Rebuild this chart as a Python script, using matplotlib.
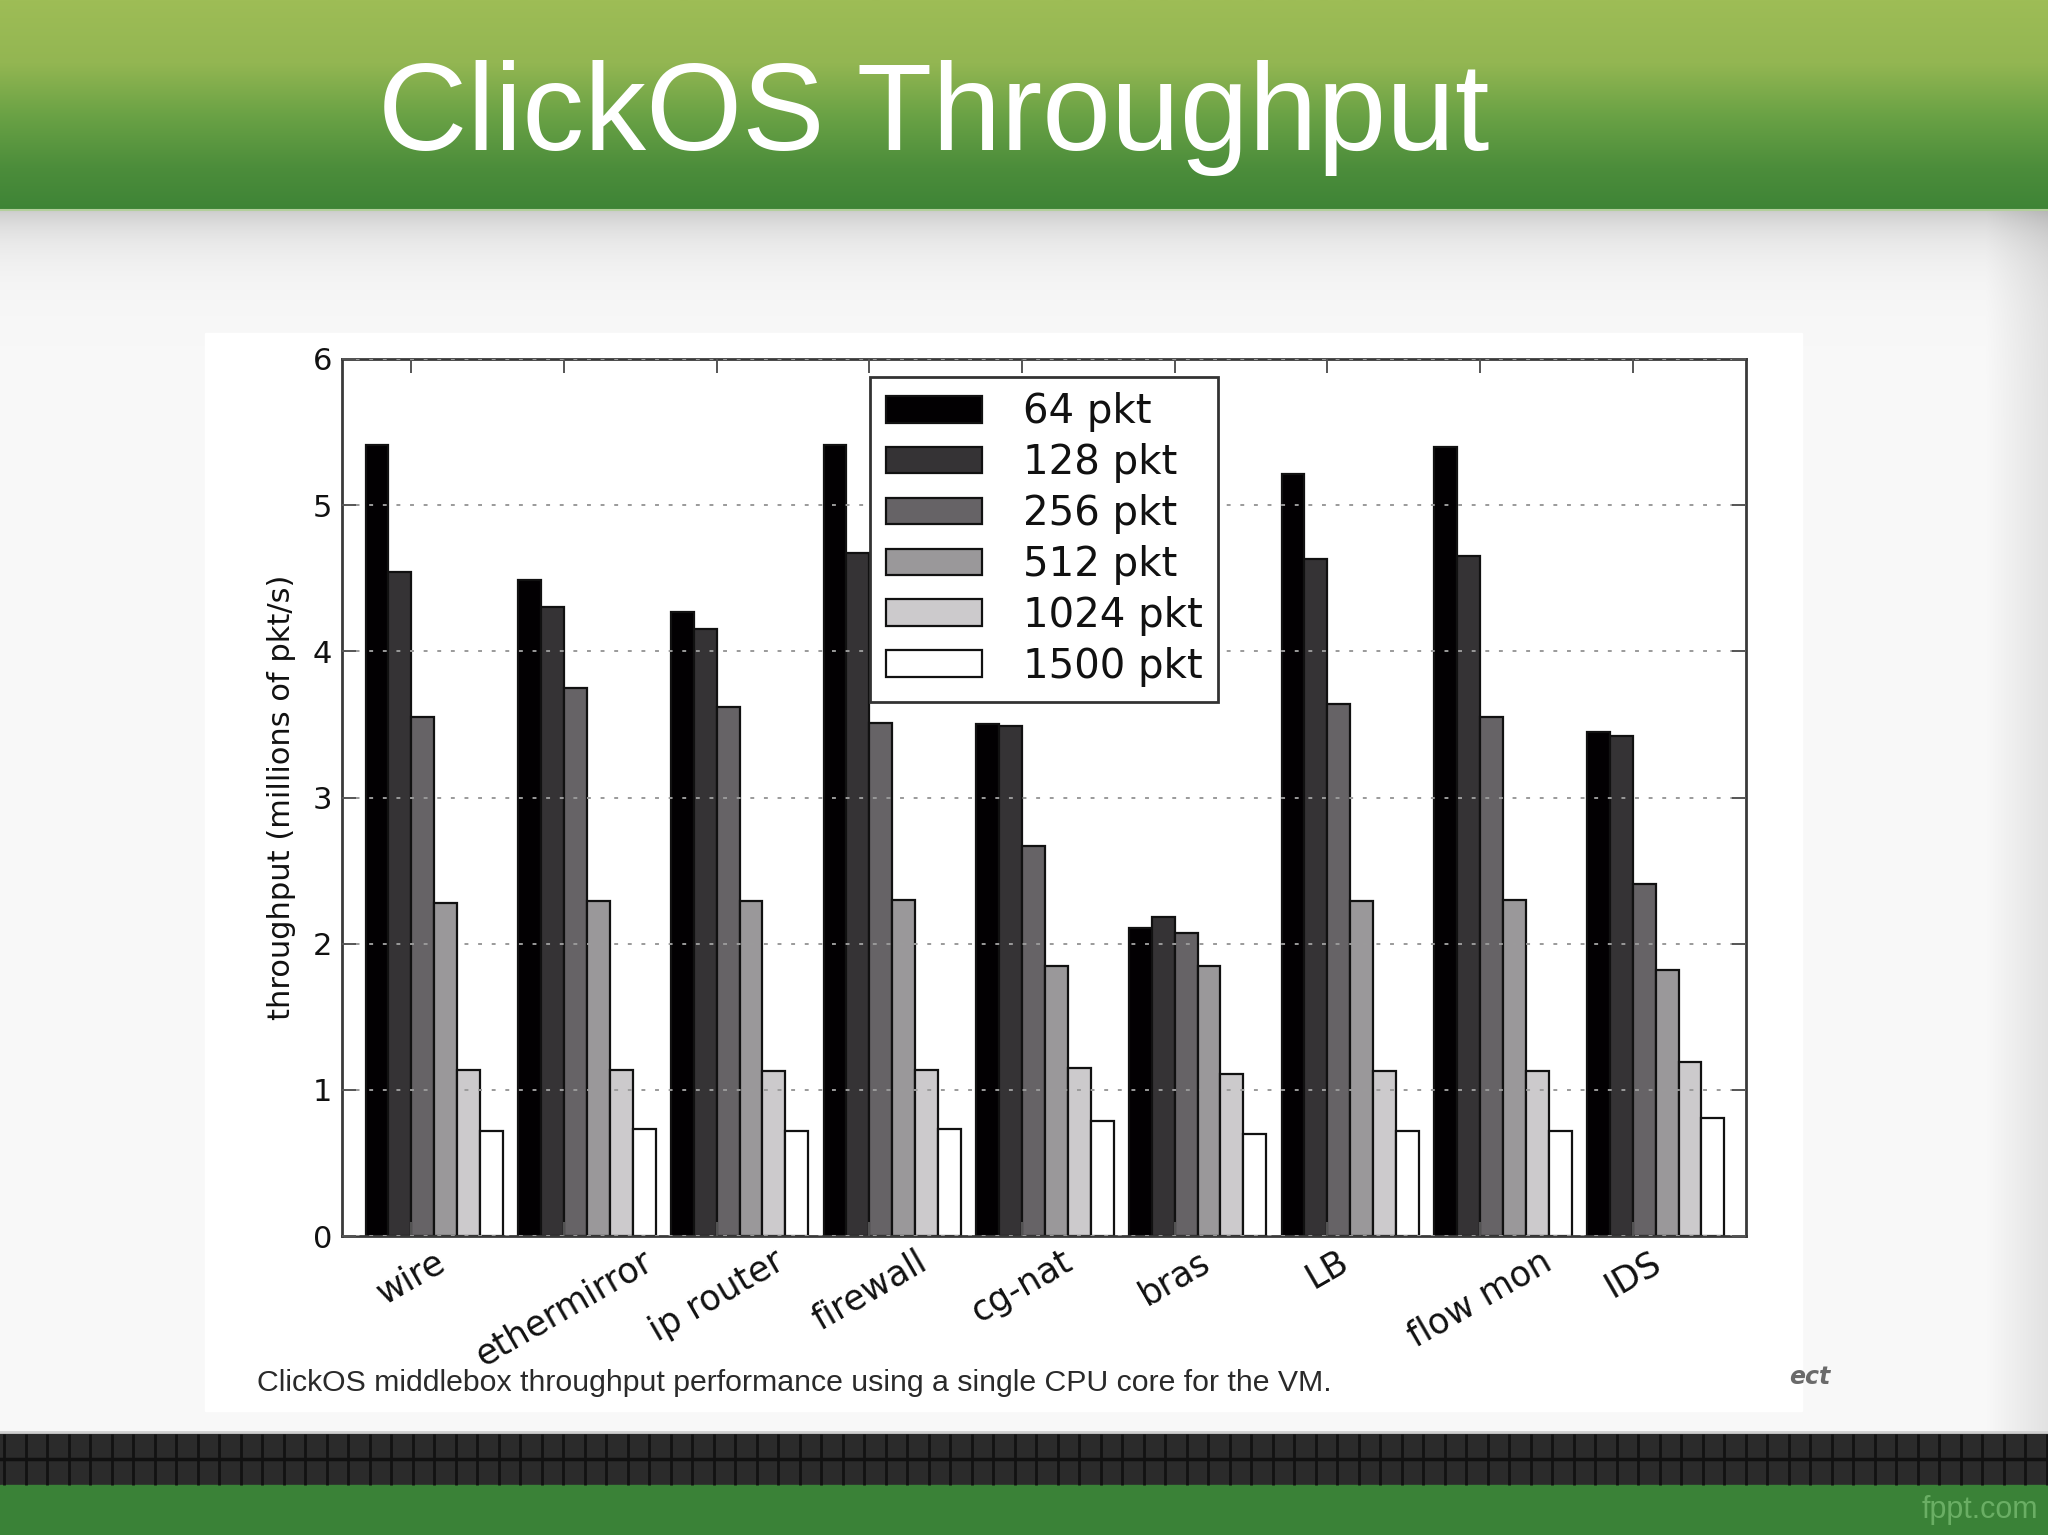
import numpy as np
import matplotlib
matplotlib.use("Agg")
import matplotlib.pyplot as plt
from matplotlib.patches import Rectangle

# middlebox types on the x axis
categories = ["wire", "ethermirror", "ip router", "firewall", "cg-nat",
              "bras", "LB", "flow mon", "IDS"]
pkt_labels = ["64 pkt", "128 pkt", "256 pkt", "512 pkt", "1024 pkt", "1500 pkt"]

# throughput in millions of pkt/s
tput_64 = [5.41, 4.49, 4.27, 5.41, 3.50, 2.11, 5.21, 5.40, 3.45]
tput_128 = [4.54, 4.30, 4.15, 4.67, 3.49, 2.18, 4.63, 4.65, 3.42]
tput_256 = [3.55, 3.75, 3.62, 3.51, 2.67, 2.07, 3.64, 3.55, 2.41]
tput_512 = [2.28, 2.29, 2.29, 2.30, 1.85, 1.85, 2.29, 2.30, 1.82]
tput_1024 = [1.135, 1.135, 1.13, 1.135, 1.15, 1.11, 1.13, 1.13, 1.19]
tput_1500 = [0.72, 0.73, 0.72, 0.73, 0.79, 0.70, 0.72, 0.72, 0.81]

series = [tput_64, tput_128, tput_256, tput_512, tput_1024, tput_1500]
bar_colors = ["#020002", "#353335", "#666366", "#9a989a", "#cccacc", "#ffffff"]

W, H = 2048, 1535
fig = plt.figure(figsize=(W / 100, H / 100), dpi=100)

# ---- slide background ----
bg = fig.add_axes([0, 0, 1, 1])
bg.set_xlim(0, W)
bg.set_ylim(H, 0)
bg.axis("off")

# green header gradient
stops = np.array([0.0, 0.3, 0.55, 0.8, 1.0])
cols = np.array([[0x9e, 0xbd, 0x56], [0x93, 0xb6, 0x52], [0x6a, 0xa2, 0x45],
                 [0x4c, 0x8d, 0x3b], [0x3e, 0x84, 0x36]]) / 255
t = np.linspace(0, 1, 200)
head = np.stack([np.interp(t, stops, cols[:, c]) for c in range(3)], axis=1)
bg.imshow(head[:, None, :], extent=(0, W, 210, 0), aspect="auto",
          interpolation="bilinear")
bg.plot([0, W], [210, 210], color="#b3cf9c", lw=1.5)

# light body with shadow under the header and at the right edge
yy = np.arange(210, 1433)[:, None]
xx = np.arange(0, W)[None, :]
v = 0.975 - 0.17 * np.exp(-(yy - 210) / 32.0) - 0.09 * np.clip((xx - 1985) / 63.0, 0, 1)
body = np.repeat(v[:, :, None], 3, axis=2)
bg.imshow(body, extent=(0, W, 1433, 210), aspect="auto", interpolation="bilinear")

# bottom dark strip and green band
bg.add_patch(Rectangle((0, 1433), W, 52, color="#2b2b2b", zorder=2))
bg.vlines(np.arange(4, W, 21.5), 1434, 1485, color="#121212", lw=2, zorder=3)
bg.plot([0, W], [1459, 1459], color="#111111", lw=2.5, zorder=3)
bg.plot([0, W], [1432, 1432], color="#d0d0d0", lw=2, zorder=3)
bg.add_patch(Rectangle((0, 1485), W, 50, color="#3a8237", zorder=2))

# white panel behind the chart
bg.add_patch(Rectangle((205, 333), 1597, 1078, color="white", zorder=2))

bg.text(378, 150, "ClickOS Throughput", family="Liberation Sans", fontsize=89,
        color="white", va="baseline", ha="left", zorder=4)
bg.text(257, 1383, "ClickOS middlebox throughput performance using a single CPU core for the VM.",
        family="Liberation Sans", fontsize=21.8, color="#2a2a2a", va="center",
        ha="left", zorder=4)
bg.text(1789, 1377, "ect", fontsize=17, fontweight="bold", style="italic",
        color="#6a6a6a", va="center", ha="left", zorder=4)
bg.text(2038, 1510, "fppt.com", family="Liberation Sans", fontsize=22,
        color="#6aae64", va="center", ha="right", zorder=4)

# ---- the chart ----
ax = fig.add_axes([342 / W, (H - 1236) / H, 1404 / W, 877 / H])
ax.set_facecolor("white")

x = np.arange(len(categories))
width = 0.15
for k, vals in enumerate(series):
    ax.bar(x + k * width, vals, width, align="edge", color=bar_colors[k],
           edgecolor="#111111", linewidth=1.6, label=pkt_labels[k])

ax.set_xlim(-0.154, 9.042)
ax.set_ylim(0, 6)
ax.set_yticks(range(7))
ax.set_xticks(x + 2 * width)
ax.set_xticklabels(categories, rotation=30, ha="center", fontsize=25, color="#111111")
ax.tick_params(axis="y", labelsize=22, labelcolor="#111111", pad=7)
ax.tick_params(axis="x", pad=6)
ax.tick_params(direction="in", top=True, right=True, length=10, width=1.4,
               color="#555555")
ax.set_ylabel("throughput (millions of pkt/s)", fontsize=22, color="#111111",
              labelpad=12)

ax.yaxis.grid(True, linestyle=(0, (2, 5)), color="#9a9a9a", linewidth=1.4)
ax.set_axisbelow(False)
for s in ax.spines.values():
    s.set_color("#3a3a3a")
    s.set_linewidth(2)

leg = ax.legend(loc="upper center", fontsize=29, handlelength=2.4,
                handleheight=0.64, handletextpad=1.0, labelspacing=0.27,
                borderpad=0.38, borderaxespad=0.45, fancybox=False,
                framealpha=1, edgecolor="#333333")
leg.get_frame().set_linewidth(2)
for txt in leg.get_texts():
    txt.set_color("#111111")

fig.savefig("out.png", dpi=100)
